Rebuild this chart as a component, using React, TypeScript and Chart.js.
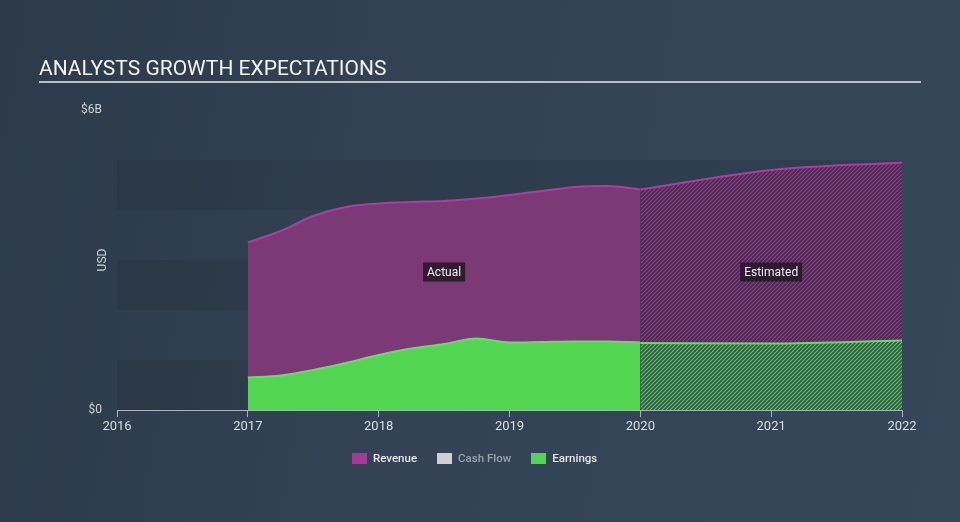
import React, { useEffect, useRef } from "react";
import { Chart, registerables } from "chart.js";
Chart.register(...registerables);

const TITLE = "ANALYSTS GROWTH EXPECTATIONS";
const X_TICKS = [2016, 2017, 2018, 2019, 2020, 2021, 2022];
const Y_TICKS = [0, 6];
const BANDS = [[0, 1], [2, 3], [4, 5]];

const actualX = [2017, 2017.25, 2017.5, 2017.75, 2018, 2018.25, 2018.5, 2018.75, 2019, 2019.25, 2019.5, 2019.75, 2020];
const revenueActual = [3.35, 3.58, 3.88, 4.06, 4.13, 4.16, 4.18, 4.23, 4.3, 4.38, 4.46, 4.48, 4.41];
const earningsActual = [0.65, 0.69, 0.8, 0.94, 1.1, 1.23, 1.32, 1.43, 1.35, 1.36, 1.37, 1.37, 1.35];

const estimateX = [2020, 2021, 2022];
const revenueEstimate = [4.41, 4.8, 4.95];
const earningsEstimate = [1.34, 1.33, 1.39];

const PERIODS = [
  { label: "Actual", from: 2017, to: 2020 },
  { label: "Estimated", from: 2020, to: 2022 },
];
const PERIOD_LABEL_Y = 2.76;

const LEGEND = [
  { label: "Revenue", color: "#a8379c", text: "#e6e6e6" },
  { label: "Cash Flow", color: "#d0d0d0", text: "#9aa3ad" },
  { label: "Earnings", color: "#52d652", text: "#e6e6e6" },
];

function pts(xs: number[], ys: number[]) {
  return xs.map((x, i) => ({ x, y: ys[i] }));
}

function makePattern(bg: string, stripe: string) {
  const s = 4;
  const c = document.createElement("canvas");
  c.width = s;
  c.height = s;
  const g = c.getContext("2d")!;
  g.fillStyle = bg;
  g.fillRect(0, 0, s, s);
  g.strokeStyle = stripe;
  g.lineWidth = 1.2;
  g.beginPath();
  g.moveTo(0, s);
  g.lineTo(s, 0);
  g.moveTo(-s / 2, s / 2);
  g.lineTo(s / 2, -s / 2);
  g.moveTo(s / 2, s * 1.5);
  g.lineTo(s * 1.5, s / 2);
  g.stroke();
  return g.createPattern(c, "repeat")!;
}

const bandsPlugin = {
  id: "bands",
  beforeDatasetsDraw(chart: any) {
    const { ctx, chartArea, scales } = chart;
    const y = scales.y;
    ctx.save();
    ctx.fillStyle = "rgba(30,40,52,0.22)";
    BANDS.forEach(([a, b]) => {
      const top = y.getPixelForValue(b);
      const bot = y.getPixelForValue(a);
      ctx.fillRect(chartArea.left, top, chartArea.right - chartArea.left, bot - top);
    });
    ctx.restore();
  },
};

const labelsPlugin = {
  id: "periodLabels",
  afterDatasetsDraw(chart: any) {
    const { ctx, scales } = chart;
    ctx.save();
    ctx.font = "12px Roboto";
    ctx.textAlign = "center";
    ctx.textBaseline = "middle";
    PERIODS.forEach((p) => {
      const cx = (scales.x.getPixelForValue(p.from) + scales.x.getPixelForValue(p.to)) / 2;
      const cy = scales.y.getPixelForValue(PERIOD_LABEL_Y);
      const w = ctx.measureText(p.label).width + 8;
      ctx.fillStyle = "rgba(36,24,40,0.88)";
      ctx.fillRect(cx - w / 2, cy - 9.5, w, 19);
      ctx.fillStyle = "#f0f0f0";
      ctx.fillText(p.label, cx, cy + 0.5);
    });
    ctx.translate(103, (scales.y.top + scales.y.bottom) / 2);
    ctx.rotate(-Math.PI / 2);
    ctx.fillStyle = "#cfd3d7";
    ctx.fillText("USD", 0, 0);
    ctx.restore();
  },
};

export default function App() {
  const ref = useRef<HTMLCanvasElement>(null);
  useEffect(() => {
    const purpleHatch = makePattern("#4a2b52", "#8f3b88");
    const greenHatch = makePattern("#34504a", "#52d652");
    const chart = new Chart(ref.current!, {
      type: "line",
      data: {
        datasets: [
          {
            label: "Earnings",
            data: pts(actualX, earningsActual),
            borderColor: "#5ee35e",
            backgroundColor: "#52d652",
            borderWidth: 2,
            fill: "origin",
            cubicInterpolationMode: "monotone",
          },
          {
            label: "Earnings est",
            data: pts(estimateX, earningsEstimate),
            borderColor: "#5ee35e",
            backgroundColor: greenHatch,
            borderWidth: 2,
            fill: "origin",
            cubicInterpolationMode: "monotone",
          },
          {
            label: "Revenue",
            data: pts(actualX, revenueActual),
            borderColor: "#b23aa6",
            backgroundColor: "#7b3a75",
            borderWidth: 2,
            fill: "origin",
            cubicInterpolationMode: "monotone",
          },
          {
            label: "Revenue est",
            data: pts(estimateX, revenueEstimate),
            borderColor: "#b23aa6",
            backgroundColor: purpleHatch,
            borderWidth: 2,
            fill: "origin",
            cubicInterpolationMode: "monotone",
          },
        ],
      },
      options: {
        animation: false,
        responsive: false,
        maintainAspectRatio: false,
        layout: { padding: { left: 60, right: 58, top: 110, bottom: 82 } },
        elements: { point: { radius: 0, hoverRadius: 0 } },
        plugins: { legend: { display: false }, tooltip: { enabled: false } },
        scales: {
          x: {
            type: "linear",
            min: 2016,
            max: 2022,
            afterBuildTicks: (s: any) => {
              s.ticks = X_TICKS.map((v) => ({ value: v }));
            },
            afterFit: (s: any) => {
              s.height = 30;
            },
            ticks: {
              callback: (v: any) => String(v),
              color: "#dcdfe3",
              font: { family: "Roboto", size: 13 },
              padding: 2,
              maxRotation: 0,
              autoSkip: false,
            },
            grid: { display: true, drawOnChartArea: false, drawTicks: true, tickLength: 7, color: "#aab3bd", lineWidth: 1 },
            border: { display: true, color: "#aab3bd", width: 1 },
          },
          y: {
            type: "linear",
            min: 0,
            max: 6,
            afterBuildTicks: (s: any) => {
              s.ticks = Y_TICKS.map((v) => ({ value: v }));
            },
            afterFit: (s: any) => {
              s.width = 57;
            },
            ticks: {
              callback: (v: any) => (v === 0 ? "$0" : `$${v}B`),
              color: "#cfd3d7",
              font: { family: "Roboto", size: 12 },
              padding: 15,
            },
            grid: { display: false, drawTicks: false },
            border: { display: false },
          },
        },
      },
      plugins: [bandsPlugin, labelsPlugin],
    } as any);
    return () => chart.destroy();
  }, []);

  return (
    <div
      style={{
        position: "fixed",
        left: 0,
        top: 0,
        width: 960,
        height: 522,
        background: "linear-gradient(100deg, #2c3a49 0%, #334355 45%, #36475a 100%)",
        fontFamily: "Roboto, sans-serif",
        overflow: "hidden",
      }}
    >
      <canvas ref={ref} width={960} height={522} style={{ position: "absolute", left: 0, top: 0, width: 960, height: 522 }} />
      <div
        style={{
          position: "absolute",
          left: 39,
          top: 56,
          width: 882,
          borderBottom: "2px solid #b9bfc6",
          color: "#f2f2f2",
          fontSize: 21,
          lineHeight: "24px",
          paddingBottom: 1,
          letterSpacing: 0,
        }}
      >
        {TITLE}
      </div>
      <div style={{ position: "absolute", left: 352, top: 450, display: "flex", alignItems: "center", fontSize: 11.5, fontWeight: 500 }}>
        {LEGEND.map((l) => (
          <div key={l.label} style={{ display: "flex", alignItems: "center", marginRight: 20 }}>
            <span style={{ display: "inline-block", width: 15, height: 11, background: l.color, marginRight: 6 }} />
            <span style={{ color: l.text, lineHeight: "16px" }}>{l.label}</span>
          </div>
        ))}
      </div>
    </div>
  );
}
